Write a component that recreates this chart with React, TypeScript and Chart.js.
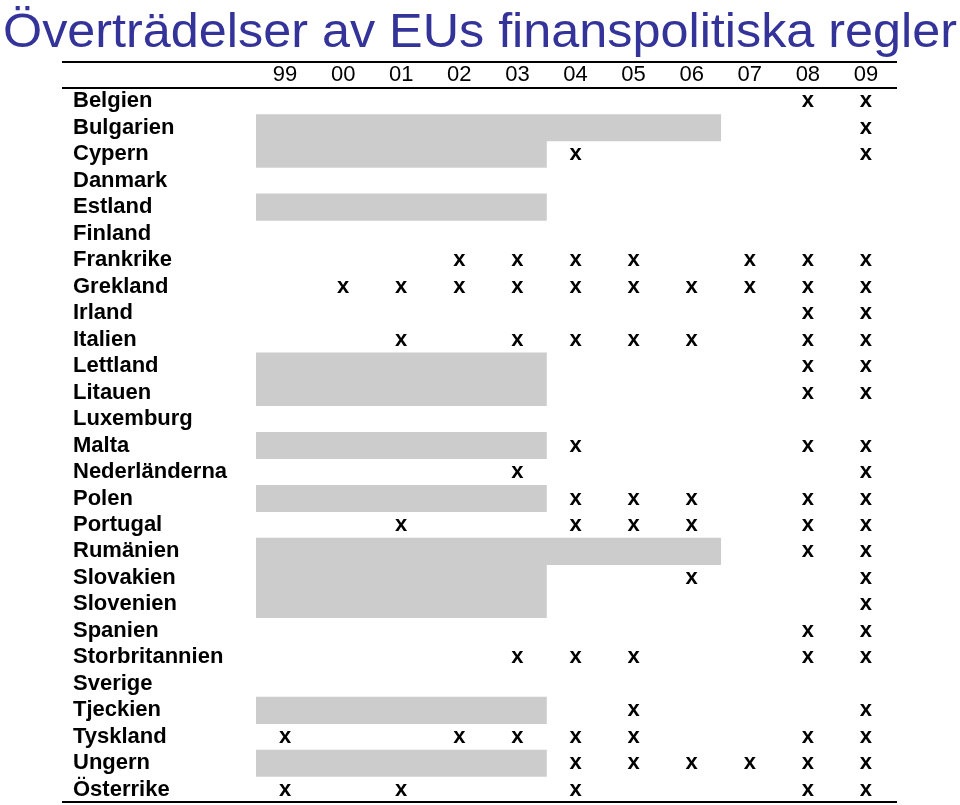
import React, { useEffect, useRef } from "react";
import { Chart, registerables } from "chart.js";

Chart.register(...registerables);

const titleText = "Överträdelser av EUs finanspolitiska regler";

const years = ["99", "00", "01", "02", "03", "04", "05", "06", "07", "08", "09"];

const countries = [
  "Belgien", "Bulgarien", "Cypern", "Danmark", "Estland", "Finland", "Frankrike",
  "Grekland", "Irland", "Italien", "Lettland", "Litauen", "Luxemburg", "Malta",
  "Nederländerna", "Polen", "Portugal", "Rumänien", "Slovakien", "Slovenien",
  "Spanien", "Storbritannien", "Sverige", "Tjeckien", "Tyskland", "Ungern", "Österrike",
];

// last year before EU membership (grey shading), null = member throughout
const notMemberUntil: (string | null)[] = [
  null, "06", "03", null, "03", null, null,
  null, null, null, "03", "03", null, "03",
  null, "03", null, "06", "03", "03",
  null, null, null, "03", null, "03", null,
];

// years with a breach of the fiscal rules
const violations: string[][] = [
  ["08", "09"],
  ["09"],
  ["04", "09"],
  [],
  [],
  [],
  ["02", "03", "04", "05", "07", "08", "09"],
  ["00", "01", "02", "03", "04", "05", "06", "07", "08", "09"],
  ["08", "09"],
  ["01", "03", "04", "05", "06", "08", "09"],
  ["08", "09"],
  ["08", "09"],
  [],
  ["04", "08", "09"],
  ["03", "09"],
  ["04", "05", "06", "08", "09"],
  ["01", "04", "05", "06", "08", "09"],
  ["08", "09"],
  ["06", "09"],
  ["09"],
  ["08", "09"],
  ["03", "04", "05", "08", "09"],
  [],
  ["05", "09"],
  ["99", "02", "03", "04", "05", "08", "09"],
  ["04", "05", "06", "07", "08", "09"],
  ["99", "01", "04", "08", "09"],
];

const FONT = '"Liberation Sans", Arial, Helvetica, sans-serif';

const tablePlugin = {
  id: "tableDecor",
  beforeDraw(chart: any) {
    const ctx = chart.ctx;
    ctx.save();
    ctx.fillStyle = "#ffffff";
    ctx.fillRect(0, 0, chart.width, chart.height);
    // title
    ctx.font = `48px ${FONT}`;
    ctx.fillStyle = "#333399";
    ctx.textBaseline = "alphabetic";
    ctx.textAlign = "left";
    const w = ctx.measureText(titleText).width;
    const target = chart.width - 6;
    ctx.translate(3, 47);
    ctx.scale(target / w, 1);
    ctx.fillText(titleText, 0, 0);
    ctx.restore();
  },
  afterDatasetsDraw(chart: any) {
    const ctx = chart.ctx;
    const meta = chart.getDatasetMeta(1);
    ctx.save();
    ctx.font = `bold 22px ${FONT}`;
    ctx.fillStyle = "#000000";
    ctx.textAlign = "center";
    ctx.textBaseline = "middle";
    meta.data.forEach((el: any) => {
      ctx.fillText("x", el.x, el.y);
    });
    ctx.restore();
  },
  afterDraw(chart: any) {
    const ctx = chart.ctx;
    const area = chart.chartArea;
    const xs = chart.scales.x;
    const ys = chart.scales.y;
    const left = ys.left - 11;
    const right = area.right + 2;
    ctx.save();
    ctx.strokeStyle = "#000000";
    ctx.lineWidth = 2;
    [xs.top + 1, area.top, area.bottom - 1].forEach((y: number) => {
      ctx.beginPath();
      ctx.moveTo(left, y);
      ctx.lineTo(right, y);
      ctx.stroke();
    });
    ctx.restore();
  },
};

export default function App() {
  const ref = useRef<HTMLCanvasElement | null>(null);

  useEffect(() => {
    if (!ref.current) return;
    const greyBars = countries.map((_, i) => {
      const u = notMemberUntil[i];
      return u === null ? null : [-0.5, years.indexOf(u) + 0.5];
    });
    const marks: { x: number; y: string }[] = [];
    countries.forEach((c, i) => {
      violations[i].forEach((yr) => marks.push({ x: years.indexOf(yr), y: c }));
    });

    const chart = new Chart(ref.current, {
      type: "bar",
      data: {
        labels: countries,
        datasets: [
          {
            type: "bar",
            indexAxis: "y",
            data: greyBars as any,
            backgroundColor: "#cccccc",
            borderWidth: 0,
            barPercentage: 1,
            categoryPercentage: 1,
            grouped: false,
          } as any,
          {
            type: "scatter",
            data: marks as any,
            pointRadius: 0,
            pointHoverRadius: 0,
            showLine: false,
          } as any,
        ],
      },
      options: {
        animation: false,
        responsive: false,
        maintainAspectRatio: false,
        events: [],
        layout: { padding: { top: 61, left: 73, right: 65, bottom: 2 } },
        plugins: {
          legend: { display: false },
          tooltip: { enabled: false },
          title: { display: false },
        },
        scales: {
          x: {
            type: "linear",
            position: "top",
            offset: false,
            min: -0.5,
            max: years.length - 0.5,
            grid: { display: false, drawTicks: false, offset: false },
            border: { display: false },
            afterBuildTicks: (scale: any) => {
              scale.ticks = years.map((_, i) => ({ value: i }));
            },
            afterFit: (scale: any) => {
              scale.height = 27;
              scale.paddingLeft = 0;
              scale.paddingRight = 0;
              scale.paddingTop = 0;
              scale.paddingBottom = 0;
            },
            ticks: {
              padding: 0,
              autoSkip: false,
              maxRotation: 0,
              color: "#000000",
              font: { family: FONT, size: 22, weight: "normal" },
              callback: (v: any) => years[Math.round(Number(v))] ?? "",
            },
          },
          y: {
            type: "category",
            labels: countries,
            position: "left",
            offset: true,
            grid: { display: false, drawTicks: false },
            border: { display: false },
            afterFit: (scale: any) => {
              scale.width = 183;
              scale.paddingLeft = 0;
              scale.paddingRight = 0;
              scale.paddingTop = 0;
              scale.paddingBottom = 0;
            },
            ticks: {
              autoSkip: false,
              crossAlign: "far",
              padding: 0,
              color: "#000000",
              font: { family: FONT, size: 22, weight: "bold" },
            },
          },
        },
      } as any,
      plugins: [tablePlugin],
    });
    return () => chart.destroy();
  }, []);

  return (
    <div style={{ position: "fixed", left: 0, top: 0, width: 960, height: 805, background: "#fff" }}>
      <canvas ref={ref} width={960} height={805} style={{ display: "block" }} />
    </div>
  );
}
